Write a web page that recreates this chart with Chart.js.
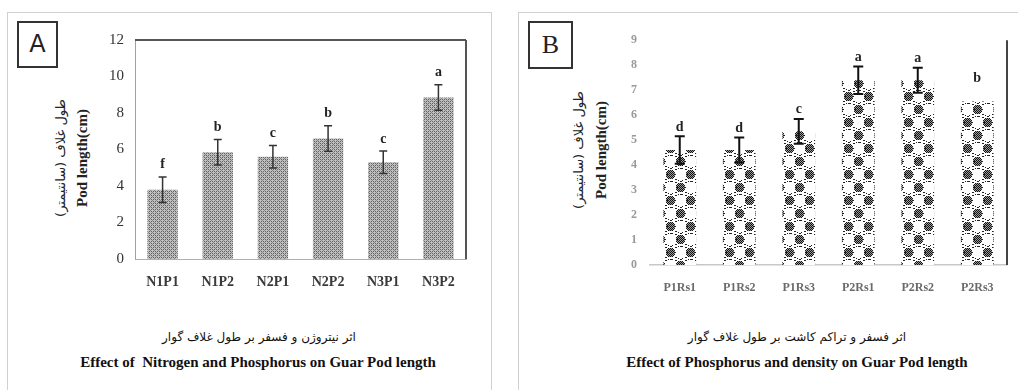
<!DOCTYPE html>
<html>
<head>
<meta charset="utf-8">
<script src="https://cdn.jsdelivr.net/npm/chart.js@4.4.1/dist/chart.umd.min.js"></script>
<style>
  body { margin: 0; background: #fff; width: 1018px; height: 390px; overflow: hidden; position: relative; font-family: "Liberation Serif", serif; }
  .panel { position: absolute; border: 1px solid #d0d0d0; }
  .tag { position: absolute; border: 2px solid #333; background: #fff; text-align: center; color: #222; }
  .ytitle { position: absolute; transform: translate(-50%, -50%) rotate(-90deg); white-space: nowrap; color: #222; }
  .fa { font-family: "DejaVu Sans", sans-serif; font-size: 13px; direction: rtl; }
  .en { font-family: "Liberation Serif", serif; font-weight: bold; font-size: 15px; }
  .cap { position: absolute; transform: translateX(-50%); white-space: nowrap; color: #111; }
  canvas { position: absolute; }
</style>
</head>
<body>
<div class="panel" style="left:7px; top:12px; width:483px; height:400px;"></div>
<div class="panel" style="left:518px; top:12px; width:520px; height:400px;"></div>

<div class="tag" style="left:17px; top:21px; width:37px; height:43px; font: 24px 'DejaVu Sans', sans-serif; line-height:43px;">A</div>
<div class="tag" style="left:528px; top:21px; width:41px; height:44px; font: 26px 'Liberation Serif', serif; line-height:44px;">B</div>

<div class="ytitle fa" style="left:60px; top:158px;">طول غلاف (سانتیمتر)</div>
<div class="ytitle en" style="left:82px; top:158px;">Pod length(cm)</div>
<div class="ytitle fa" style="left:578px; top:150px;">طول غلاف (سانتیمتر)</div>
<div class="ytitle en" style="left:601px; top:150px;">Pod length(cm)</div>

<div class="cap fa" style="left:259px; top:330px; font-size:12px;">اثر نیتروژن و فسفر بر طول غلاف گوار</div>
<div class="cap en" style="left:258px; top:354px; font-size:15px;">Effect of&nbsp; Nitrogen and Phosphorus on Guar Pod length</div>
<div class="cap fa" style="left:797px; top:330px; font-size:12px;">اثر فسفر و تراکم کاشت بر طول غلاف گوار</div>
<div class="cap en" style="left:797px; top:354px; font-size:15px;">Effect of Phosphorus and density on Guar Pod length</div>

<canvas id="chartA" width="380" height="300" style="left:95px; top:20px;"></canvas>
<canvas id="chartB" width="395" height="300" style="left:620px; top:20px;"></canvas>

<script>
// panel A data
var catsA = ['N1P1', 'N1P2', 'N2P1', 'N2P2', 'N3P1', 'N3P2'];
var valsA = [3.8, 5.85, 5.6, 6.6, 5.3, 8.85];
var errA = [0.7, 0.7, 0.62, 0.7, 0.62, 0.7];
var letA = ['f', 'b', 'c', 'b', 'c', 'a'];
var ticksA = [0, 2, 4, 6, 8, 10, 12];

// panel B data
var catsB = ['P1Rs1', 'P1Rs2', 'P1Rs3', 'P2Rs1', 'P2Rs2', 'P2Rs3'];
var valsB = [4.6, 4.6, 5.35, 7.4, 7.4, 6.55];
var errB = [0.55, 0.5, 0.5, 0.55, 0.5, 0.55];
var letB = ['d', 'd', 'c', 'a', 'a', 'b'];
var ticksB = [0, 1, 2, 3, 4, 5, 6, 7, 8, 9];

// fine grey dot pattern for A
function makePatternA() {
    var c = document.createElement('canvas');
    c.width = 4; c.height = 4;
    var g = c.getContext('2d');
    g.fillStyle = '#c0c0c0';
    g.fillRect(0, 0, 4, 4);
    g.fillStyle = '#626262';
    g.fillRect(0, 0, 1, 1); g.fillRect(2, 2, 1, 1);
    g.fillRect(2, 0, 1, 1); g.fillRect(0, 2, 1, 1);
    g.fillStyle = '#858585';
    g.fillRect(1, 1, 1, 1); g.fillRect(3, 3, 1, 1);
    return c;
}

// dotted clusters and rings for B
function makeTileB() {
    var w = 20, h = 26;
    var c = document.createElement('canvas');
    c.width = w; c.height = h;
    var g = c.getContext('2d');
    g.fillStyle = '#fff';
    g.fillRect(0, 0, w, h);
    function px(x, y) {
        g.fillRect((x % w + w) % w, (y % h + h) % h, 1, 1);
    }
    function cluster(cx, cy) {
        for (var dx = -5; dx <= 5; dx++) {
            for (var dy = -5; dy <= 5; dy++) {
                if (dx * dx + dy * dy <= 22) {
                    g.fillStyle = ((dx + dy) & 1) == 0 ? '#111' : '#9a9a9a';
                    px(cx + dx, cy + dy);
                }
            }
        }
    }
    function ring(cx, cy) {
        g.fillStyle = '#222';
        for (var k = 0; k < 16; k++) {
            var a = k / 16 * Math.PI * 2;
            var x = Math.round(cx + Math.cos(a) * 6.5), y = Math.round(cy + Math.sin(a) * 6.5);
            px(x, y);
            if (k % 2 == 0) px(x + 1, y);
        }
    }
    cluster(0, 0); cluster(10, 13);
    ring(10, 0); ring(0, 13);
    return c;
}

var tileA = makePatternA();
var tileB = makeTileB();

function patternFor(tile, ctx) {
    var chart = ctx.chart;
    var pat = chart.ctx.createPattern(tile, 'repeat');
    if (ctx.type === 'data' && chart.chartArea && chart.scales.x) {
        var x = chart.scales.x.getPixelForValue(ctx.dataIndex);
        pat.setTransform(new DOMMatrix().translate(Math.round(x), chart.chartArea.bottom));
    }
    return pat;
}

// error bars + letters above bars
var errorPlugin = {
    id: 'errbars',
    afterDatasetsDraw(chart, args, opts) {
        var c = chart.ctx;
        var meta = chart.getDatasetMeta(0);
        var y = chart.scales.y;
        var vals = chart.data.datasets[0].data;
        c.save();
        for (let i = 0; i < vals.length; i++) {
            var x = meta.data[i].x;
            var top = y.getPixelForValue(vals[i] + opts.err[i]);
            var bot = y.getPixelForValue(vals[i] - opts.err[i]);
            var hidden = opts.hide.indexOf(i) >= 0;
            if (!hidden) {
                c.strokeStyle = opts.color;
                c.lineWidth = opts.width;
                c.beginPath();
                c.moveTo(x, top); c.lineTo(x, bot);
                c.moveTo(x - opts.cap, top); c.lineTo(x + opts.cap, top);
                c.moveTo(x - opts.cap, bot); c.lineTo(x + opts.cap, bot);
                c.stroke();
            }
            c.fillStyle = '#222';
            c.font = opts.font;
            c.textAlign = 'center';
            c.textBaseline = 'middle';
            c.fillText(opts.letters[i], x, top - opts.gap);
        }
        c.restore();
    }
};

// plot frame lines
var framePlugin = {
    id: 'frame',
    afterDraw(chart, args, opts) {
        var a = chart.chartArea;
        var c = chart.ctx;
        c.save();
        c.strokeStyle = opts.color;
        c.lineWidth = 2;
        c.beginPath();
        if (opts.top) { c.moveTo(a.left, a.top); c.lineTo(a.right, a.top); }
        c.moveTo(a.right, a.top); c.lineTo(a.right, a.bottom);
        c.stroke();
        c.restore();
    }
};

var chartA = new Chart(document.getElementById('chartA'), {
    type: 'bar',
    data: {
        labels: catsA,
        datasets: [{
            data: valsA,
            backgroundColor: function (ctx) { return patternFor(tileA, ctx); },
            borderWidth: 0,
            barPercentage: 0.55,
            categoryPercentage: 1
        }]
    },
    options: {
        responsive: false,
        animation: false,
        layout: { padding: { left: 0, top: 12, right: 9, bottom: 21 } },
        scales: {
            y: {
                min: 0, max: 12,
                afterFit: function (s) { s.width = 40; },
                afterBuildTicks: function (s) { s.ticks = ticksA.map(function (v) { return { value: v }; }); },
                grid: { display: false, drawTicks: false },
                border: { display: true, color: '#a0a0a0', width: 1 },
                ticks: { padding: 11, color: '#333', font: { family: 'Liberation Serif', size: 15 } }
            },
            x: {
                afterFit: function (s) { s.height = 40; },
                grid: { display: false, drawTicks: false },
                border: { display: true, color: '#b0b0b0', width: 1 },
                ticks: { padding: 15, color: '#3a3a3a', font: { family: 'Liberation Serif', size: 14, weight: 'bold' } }
            }
        },
        plugins: {
            legend: { display: false },
            tooltip: { enabled: false },
            errbars: { err: errA, letters: letA, hide: [], color: '#333', width: 1.5, cap: 4, gap: 12, font: 'bold 14px "Liberation Serif"' },
            frame: { color: '#555', top: true }
        }
    },
    plugins: [errorPlugin, framePlugin]
});

var chartB = new Chart(document.getElementById('chartB'), {
    type: 'bar',
    data: {
        labels: catsB,
        datasets: [{
            data: valsB,
            backgroundColor: function (ctx) { return patternFor(tileB, ctx); },
            borderWidth: 0,
            barPercentage: 0.55,
            categoryPercentage: 1
        }]
    },
    options: {
        responsive: false,
        animation: false,
        layout: { padding: { left: 0, top: 12, right: 8, bottom: 15 } },
        scales: {
            y: {
                min: 0, max: 9,
                afterFit: function (s) { s.width = 30; },
                afterBuildTicks: function (s) { s.ticks = ticksB.map(function (v) { return { value: v }; }); },
                grid: { display: false, drawTicks: false },
                border: { display: false },
                ticks: { padding: 13, color: '#9a9a9a', font: { family: 'Liberation Serif', size: 12, weight: 'bold' } }
            },
            x: {
                afterFit: function (s) { s.height = 40; },
                grid: { display: false, drawTicks: false },
                border: { display: true, color: '#c8c8c8', width: 1.5 },
                ticks: { padding: 16, color: '#6a6a6a', font: { family: 'Liberation Serif', size: 12, weight: 'bold' } }
            }
        },
        plugins: {
            legend: { display: false },
            tooltip: { enabled: false },
            errbars: { err: errB, letters: letB, hide: [5], color: '#111', width: 2, cap: 5, gap: 9, font: 'bold 14px "Liberation Serif"' },
            frame: { color: '#444', top: false }
        }
    },
    plugins: [errorPlugin, framePlugin]
});
</script>
</body>
</html>
